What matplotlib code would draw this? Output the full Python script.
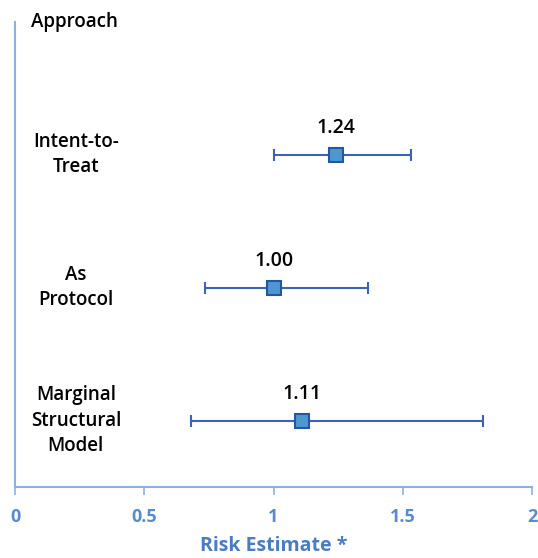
import matplotlib.pyplot as plt

# Forest plot data
approaches = ["Intent-to-\nTreat", "As\nProtocol", "Marginal\nStructural\nModel"]
estimates = [1.24, 1.00, 1.11]
lower_ci = [1.00, 0.735, 0.68]
upper_ci = [1.53, 1.365, 1.81]
est_labels = ["1.24", "1.00", "1.11"]
x_ticks = [0, 0.5, 1, 1.5, 2]
x_tick_labels = ["0", "0.5", "1", "1.5", "2"]

plt.rcParams['font.family'] = ['Open Sans', 'DejaVu Sans']

fig = plt.figure(figsize=(5.38, 5.58), dpi=100)
ax = fig.add_axes([0.028, 0.127, 0.961, 0.834])

rows = [3, 2, 1]
for y, est, lo, hi, lab, name in zip(rows, estimates, lower_ci, upper_ci, est_labels, approaches):
    ax.errorbar(est, y, xerr=[[est - lo], [hi - est]], fmt='s', color='#3a64b4',
                ecolor='#3a64b4', elinewidth=1.5, capsize=4, capthick=1.5,
                markersize=10, markerfacecolor='#4f97cf', markeredgecolor='#2456a4',
                markeredgewidth=1.5)
    ax.text(est, y + 0.2, lab, ha='center', va='center', fontsize=14,
            fontweight='semibold', color='black')
    ax.text(0.235, y, name, ha='center', va='center', fontsize=13.5,
            fontweight='semibold', color='black', linespacing=1.35)

ax.text(0.23, 4.0, "Approach", ha='center', va='center', fontsize=13.5,
        fontweight='semibold', color='black')

ax.set_xlim(0, 2)
ax.set_ylim(0.5, 4.0)
ax.set_xticks(x_ticks)
ax.set_xticklabels(x_tick_labels, fontsize=13, fontweight='bold', color='#5a8ad0')
ax.set_yticks([])
ax.tick_params(axis='x', length=6, width=1.2, color='#8db0e0', pad=9)

for side in ['top', 'right']:
    ax.spines[side].set_visible(False)
for side in ['left', 'bottom']:
    ax.spines[side].set_color('#8db0e0')
    ax.spines[side].set_linewidth(1.5)

ax.set_xlabel("Risk Estimate *", fontsize=14, fontweight='bold', color='#4a7cc2', labelpad=7)

fig.savefig("out.png", dpi=100)
